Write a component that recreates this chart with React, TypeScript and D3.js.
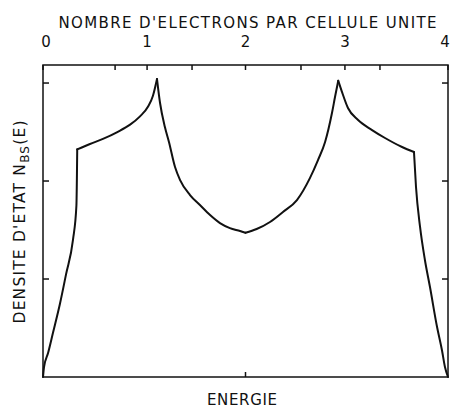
import React, { useEffect, useRef } from "react";
import * as d3 from "d3";

// density of states: energy (band from -1 to 1) and N_BS(E)
const energy = [
  -1, -0.995, -0.975, -0.951, -0.916, -0.886, -0.852, -0.835, -0.831,
  -0.768, -0.704, -0.633, -0.57, -0.521, -0.481, -0.457, -0.437,
  -0.422, -0.398, -0.378, -0.348, -0.323, -0.274, -0.225, -0.175, -0.126, -0.077, -0.027, 0,
  0.055, 0.121, 0.185, 0.254, 0.318, 0.358, 0.393, 0.427, 0.442, 0.458,
  0.475, 0.506, 0.556, 0.625, 0.689, 0.773, 0.832,
  0.842, 0.862, 0.886, 0.911, 0.946, 0.97, 0.985, 1,
];
const density = [
  0, 0.102, 0.245, 0.449, 0.75, 1.05, 1.4, 1.75, 2.323,
  2.378, 2.43, 2.5, 2.575, 2.66, 2.76, 2.87, 3.041,
  2.796, 2.551, 2.398, 2.143, 2.01, 1.857, 1.755, 1.653, 1.571, 1.52, 1.49, 1.472,
  1.51, 1.582, 1.684, 1.806, 2.03, 2.214, 2.398, 2.694, 2.857, 3.023,
  2.918, 2.745, 2.622, 2.52, 2.439, 2.347, 2.296,
  1.939, 1.531, 1.194, 0.918, 0.51, 0.276, 0.102, 0,
];
// indices where the curve has a corner (band edge kinks, van Hove peaks, centre)
const corners = [0, 8, 16, 28, 38, 45, 53];

// top axis: number of electrons per unit cell, positioned in energy
const electronTickEnergy = [-1, -0.644, -0.486, -0.264, 0, 0.274, 0.491, 0.664, 1];
const electronTickLabel = ["0", "", "1", "", "2", "", "3", "", "4"];
const densityTicks = [1, 2, 3];

export default function App() {
  const ref = useRef<SVGSVGElement>(null);

  useEffect(() => {
    const svg = d3.select(ref.current);
    svg.selectAll("*").remove();

    const left = 43, right = 448, top = 65, bottom = 377;
    const x = d3.scaleLinear().domain([-1, 1]).range([left, right]);
    const y = d3.scaleLinear().domain([0, 3.184]).range([bottom, top]);
    const font = "'DejaVu Sans', sans-serif";

    // frame
    svg.append("rect")
      .attr("x", left).attr("y", top)
      .attr("width", right - left).attr("height", bottom - top)
      .attr("fill", "none").attr("stroke", "#111").attr("stroke-width", 1.5);

    // left / right inward ticks
    densityTicks.forEach(t => {
      svg.append("line")
        .attr("x1", left).attr("x2", left + 6)
        .attr("y1", y(t)).attr("y2", y(t))
        .attr("stroke", "#111").attr("stroke-width", 1.5);
      svg.append("line")
        .attr("x1", right).attr("x2", right - 6)
        .attr("y1", y(t)).attr("y2", y(t))
        .attr("stroke", "#111").attr("stroke-width", 1.5);
    });

    // bottom tick at band centre
    svg.append("line")
      .attr("x1", x(0)).attr("x2", x(0))
      .attr("y1", bottom).attr("y2", bottom - 5)
      .attr("stroke", "#111").attr("stroke-width", 1.5);

    // top electron-count axis
    electronTickEnergy.forEach((e, i) => {
      svg.append("line")
        .attr("x1", x(e)).attr("x2", x(e))
        .attr("y1", top).attr("y2", top + 5)
        .attr("stroke", "#111").attr("stroke-width", 1.5);
      if (electronTickLabel[i]) {
        svg.append("text")
          .attr("x", x(e) + (i === 0 ? 3 : i === electronTickEnergy.length - 1 ? -3 : 0))
          .attr("y", 47)
          .attr("text-anchor", "middle")
          .attr("font-family", font).attr("font-size", 15)
          .attr("fill", "#111")
          .text(electronTickLabel[i]);
      }
    });

    // curve, smooth between corners
    const pts = energy.map((e, i) => [e, density[i]] as [number, number]);
    const line = d3.line<[number, number]>()
      .x(d => x(d[0]))
      .y(d => y(d[1]))
      .curve(d3.curveMonotoneX);
    for (let k = 0; k < corners.length - 1; k++) {
      svg.append("path")
        .datum(pts.slice(corners[k], corners[k + 1] + 1))
        .attr("fill", "none")
        .attr("stroke", "#111")
        .attr("stroke-width", 2)
        .attr("stroke-linecap", "round")
        .attr("d", line);
    }

    // titles
    svg.append("text")
      .attr("x", 247.5).attr("y", 28)
      .attr("text-anchor", "middle")
      .attr("font-family", font).attr("font-size", 15)
      .attr("textLength", 378).attr("lengthAdjust", "spacing")
      .attr("fill", "#111")
      .text("NOMBRE D'ELECTRONS PAR CELLULE UNITE");

    svg.append("text")
      .attr("x", 242).attr("y", 405)
      .attr("text-anchor", "middle")
      .attr("font-family", font).attr("font-size", 15)
      .attr("textLength", 70).attr("lengthAdjust", "spacing")
      .attr("fill", "#111")
      .text("ENERGIE");

    const yl = svg.append("text")
      .attr("transform", "translate(25,222) rotate(-90)")
      .attr("text-anchor", "middle")
      .attr("font-family", font).attr("font-size", 15.5)
      .attr("textLength", 203).attr("lengthAdjust", "spacing")
      .attr("fill", "#111");
    yl.append("tspan").text("DENSITE D'ETAT N");
    yl.append("tspan").attr("dy", 4).attr("font-size", 12).text("BS");
    yl.append("tspan").attr("dy", -4).text("(E)");
  }, []);

  return (
    <svg
      ref={ref}
      width={451}
      height={409}
      style={{ position: "absolute", left: 0, top: 0, background: "#fff" }}
    />
  );
}
